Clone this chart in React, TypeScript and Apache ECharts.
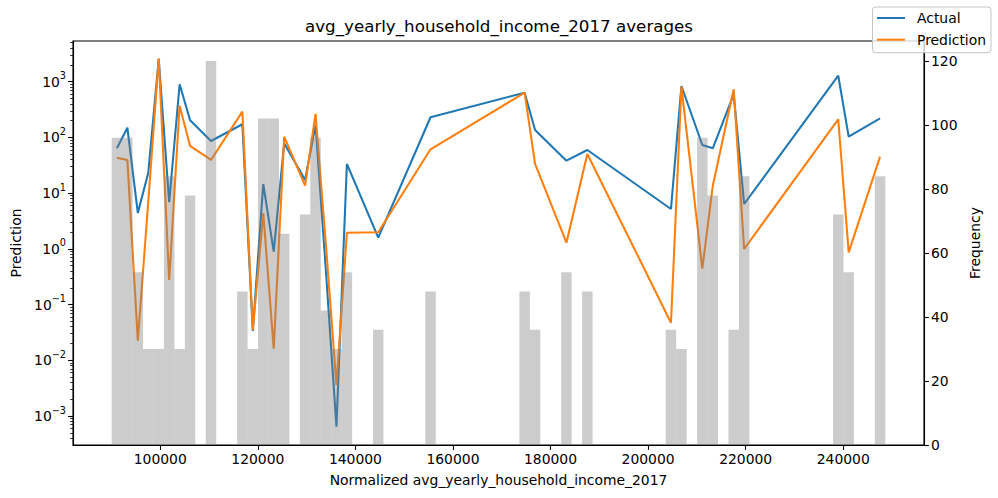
import { useEffect, useRef } from "react";
import * as echarts from "echarts";

const FONT = "DejaVu Sans";

// Histogram bins of the normalized income (equal width bins)
const BIN_START = 90040;
const BIN_WIDTH = 2143;

const counts = [
  96, 96, 54, 30, 30, 84, 30, 78, 0, 120,
  0, 0, 48, 30, 102, 102, 66, 0, 72, 96,
  42, 30, 54, 0, 0, 36, 0, 0, 0, 0,
  48, 0, 0, 0, 0, 0, 0, 0, 0, 48,
  36, 0, 0, 54, 0, 48, 0, 0, 0, 0,
  0, 0, 0, 36, 30, 0, 96, 78, 0, 36,
  84, 0, 0, 0, 0, 0, 0, 0, 0, 72,
  54, 0, 0, 84,
];

const N = null;

// Mean actual value per bin (null where the bin is empty)
const actual = [
  63.8, 149, 4.4, 23.3, 2520, 6.85, 898, 203, N, 86.3,
  N, N, 172, 0.0336, 14.6, 0.889, 78.3, N, 17.2, 167,
  0.385, 6.43e-4, 33.4, N, N, 1.585, N, N, N, N,
  230, N, N, N, N, N, N, N, N, 635,
  136, N, N, 38.2, N, 59.4, N, N, N, N,
  N, N, N, 5.19, 837, N, 73.1, 63.8, N, 594,
  6.38, N, N, N, N, N, N, N, N, 1282,
  103, N, N, 220,
];

// Mean predicted value per bin
const prediction = [
  43.3, 39.4, 0.0225, 7.0, 2630, 0.276, 371, 70.2, N, 39.4,
  N, N, 290, 0.035, 4.4, 0.0161, 103, N, 13.6, 263,
  1.12, 0.0036, 1.95, N, N, 1.98, N, N, N, N,
  61.2, N, N, N, N, N, N, N, N, 635,
  33.4, N, N, 1.29, N, 50.4, N, N, N, N,
  N, N, N, 0.0473, 813, N, 0.441, 13.6, N, 731,
  0.994, N, N, N, N, N, N, N, N, 211,
  0.867, N, N, 45.1,
];

const xTicks = [100000, 120000, 140000, 160000, 180000, 200000, 220000, 240000];
const logMajor = [1e-3, 1e-2, 1e-1, 1, 10, 100, 1000];
const logMinor: number[] = [];
for (let e = -4; e <= 3; e++) {
  for (let k = 2; k <= 9; k++) logMinor.push(k * Math.pow(10, e));
}
const freqTicks = [0, 20, 40, 60, 80, 100, 120];

const X_MIN = 82110;
const X_MAX = 256560;
const Y_MIN = 3.02e-4;
const Y_MAX = 5370;
const F_MAX = 126.25;

export default function App() {
  const ref = useRef<HTMLDivElement>(null);

  useEffect(() => {
    if (!ref.current) return;
    const chart = echarts.init(ref.current, undefined, { renderer: "svg" });

    const center = (i: number) => BIN_START + (i + 0.5) * BIN_WIDTH;
    const toPts = (arr: (number | null)[]) =>
      arr
        .map((v, i) => (v == null ? null : [center(i), v]))
        .filter((p) => p !== null);
    const histData = counts
      .map((c, i) => [BIN_START + i * BIN_WIDTH, BIN_START + (i + 1) * BIN_WIDTH, c])
      .filter((d) => d[2] > 0);

    const tickText = { fontFamily: FONT, fontSize: 13.9, color: "#000" };
    const nameText = { fontFamily: FONT, fontSize: 13.9, color: "#000" };

    chart.setOption({
      animation: false,
      backgroundColor: "#ffffff",
      title: {
        text: "avg_yearly_household_income_2017 averages",
        left: "center",
        top: 12,
        textStyle: { fontFamily: FONT, fontSize: 16.7, fontWeight: "normal", color: "#000" },
      },
      legend: {
        data: [
          { name: "Actual", icon: "rect" },
          { name: "Prediction", icon: "rect" },
        ],
        orient: "vertical",
        right: 7,
        top: 7,
        itemWidth: 28,
        itemHeight: 2,
        itemGap: 5.7,
        padding: [3, 5, 5, 4.5],
        backgroundColor: "rgba(255,255,255,0.8)",
        borderColor: "#c4c4c4",
        borderWidth: 1,
        borderRadius: 3,
        textStyle: {
          fontFamily: FONT,
          fontSize: 13.9,
          color: "#000",
          lineHeight: 16,
          padding: [0, 0, 0, 7],
        },
      },
      grid: {
        left: 73,
        right: 74,
        top: 41,
        bottom: 53,
        show: true,
        borderColor: "#000",
        borderWidth: 1.1,
        backgroundColor: "transparent",
      },
      xAxis: {
        type: "value",
        min: X_MIN,
        max: X_MAX,
        name: "Normalized avg_yearly_household_income_2017",
        nameLocation: "middle",
        nameGap: 28,
        nameTextStyle: nameText,
        axisLine: { show: true, lineStyle: { color: "#000", width: 1.1 } },
        axisTick: { show: true, length: 4.9, lineStyle: { color: "#000", width: 1.1 }, customValues: xTicks },
        axisLabel: { ...tickText, margin: 7, customValues: xTicks, formatter: (v: number) => String(v) },
        splitLine: { show: false },
      },
      yAxis: [
        {
          type: "log",
          logBase: 10,
          position: "left",
          min: Y_MIN,
          max: Y_MAX,
          name: "Prediction",
          nameLocation: "middle",
          nameGap: 48,
          nameTextStyle: nameText,
          axisLine: { show: true, lineStyle: { color: "#000", width: 1.1 } },
          axisTick: { show: true, length: 4.9, lineStyle: { color: "#000", width: 1.1 }, customValues: logMajor },
          axisLabel: {
            customValues: logMajor,
            margin: 7,
            formatter: (v: number) => {
              const e = String(Math.round(Math.log10(v))).replace("-", "\u2212");
              return `{b|10}{s|${e}}`;
            },
            rich: {
              b: { fontFamily: FONT, fontSize: 13.9, color: "#000", lineHeight: 22 },
              s: { fontFamily: FONT, fontSize: 9.7, color: "#000", verticalAlign: "top", lineHeight: 12 },
            },
          },
          splitLine: { show: false },
        },
        {
          type: "log",
          logBase: 10,
          position: "left",
          min: Y_MIN,
          max: Y_MAX,
          axisLine: { show: false },
          axisTick: { show: true, length: 2.8, lineStyle: { color: "#000", width: 0.8 }, customValues: logMinor.filter((v) => v > Y_MIN && v < Y_MAX) },
          axisLabel: { show: false },
          splitLine: { show: false },
        },
        {
          type: "value",
          position: "right",
          min: 0,
          max: F_MAX,
          name: "Frequency",
          nameLocation: "middle",
          nameGap: 36,
          nameTextStyle: nameText,
          axisLine: { show: true, lineStyle: { color: "#000", width: 1.1 } },
          axisTick: { show: true, length: 4.9, lineStyle: { color: "#000", width: 1.1 }, customValues: freqTicks },
          axisLabel: { ...tickText, margin: 7, customValues: freqTicks },
          splitLine: { show: false },
        },
      ],
      series: [
        {
          name: "Actual",
          type: "line",
          yAxisIndex: 0,
          data: toPts(actual),
          showSymbol: false,
          symbol: "none",
          connectNulls: true,
          color: "#1f77b4",
          lineStyle: { color: "#1f77b4", width: 2.08 },
          z: 2,
        },
        {
          name: "Prediction",
          type: "line",
          yAxisIndex: 0,
          data: toPts(prediction),
          showSymbol: false,
          symbol: "none",
          connectNulls: true,
          color: "#ff7f0e",
          lineStyle: { color: "#ff7f0e", width: 2.08 },
          z: 2,
        },
        {
          name: "Frequency",
          type: "custom",
          yAxisIndex: 2,
          data: histData,
          encode: { x: [0, 1], y: 2 },
          z: 3,
          silent: true,
          renderItem: (_params: any, api: any) => {
            const p0 = api.coord([api.value(0), 0]);
            const p1 = api.coord([api.value(1), api.value(2)]);
            return {
              type: "rect",
              shape: { x: p0[0], y: p1[1], width: p1[0] - p0[0], height: p0[1] - p1[1] },
              style: { fill: "rgba(128,128,128,0.4)" },
            };
          },
        },
      ],
    });

    return () => chart.dispose();
  }, []);

  return (
    <div
      ref={ref}
      style={{ position: "absolute", left: 0, top: 0, width: 998, height: 498 }}
    />
  );
}
